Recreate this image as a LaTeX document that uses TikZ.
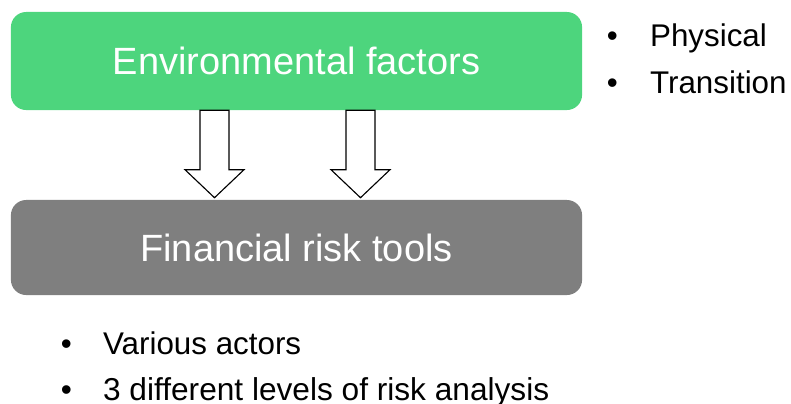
\documentclass[tikz,border=0pt]{standalone}
\usepackage{fontspec}
\setmainfont{Liberation Sans}
\usepackage{tikz}
\usetikzlibrary{positioning,calc}
\definecolor{envgreen}{RGB}{77,213,125}
\definecolor{riskgray}{RGB}{127,127,127}

\begin{document}
\begin{tikzpicture}[x=0.025cm, y=-0.025cm,
    box/.style={rectangle, rounded corners=0.38cm, minimum width=14.275cm, minimum height=2.45cm, text=white, font=\fontsize{27}{31}\selectfont},
    item/.style={anchor=base west, inner sep=0pt, font=\fontsize{22.3}{26}\selectfont},
    blockarrow/.style={draw=black, fill=white, line width=0.8pt, line join=miter}]
    \useasboundingbox (0,0) rectangle (791,403);

    \node[box, fill=envgreen] (env) at (296.5,61) {Environmental factors};
    \node[box, fill=riskgray, minimum height=2.375cm] (risk) at (296.5,247.5) {Financial risk tools};

    % bullet lists
    \node[item] (phys) at (606.5,46.7) {\makebox[30.8pt][l]{\textbullet}Physical};
    \node[item] (trans) at (606.5,93) {\makebox[30.8pt][l]{\textbullet}Transition};
    \node[item] (actors) at (60.5,354) {\makebox[30.1pt][l]{\textbullet}Various actors};
    \node[item, font=\fontsize{22.5}{26}\selectfont] (levels) at (60.5,400) {\makebox[30.1pt][l]{\textbullet}3 different levels of risk analysis};

    % block arrows between the boxes
    \foreach \dx in {-82,64} {
        \draw[blockarrow] ($(env.south)+(\dx-14.5,0)$) -- ($(env.south)+(\dx+14.5,0)$)
            -- ($(risk.north)+(\dx+14.5,-30)$) -- ($(risk.north)+(\dx+29.5,-30)$)
            -- ($(risk.north)+(\dx,-2)$) -- ($(risk.north)+(\dx-29.5,-30)$)
            -- ($(risk.north)+(\dx-14.5,-30)$) -- cycle;
    }
\end{tikzpicture}
\end{document}
